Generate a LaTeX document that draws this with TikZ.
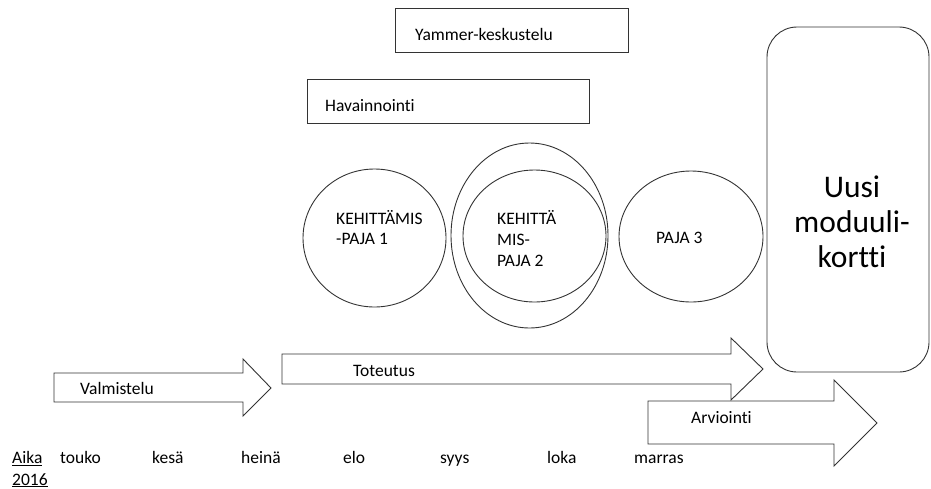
\documentclass[tikz,border=0pt]{standalone}
\usepackage{fontspec}
\setmainfont{Carlito}[Ligatures={NoCommon}]
\usetikzlibrary{shapes.geometric}
\begin{document}
\begin{tikzpicture}[x=1pt,y=-1pt,
  ln/.style={draw=black!80,line width=0.9pt},
  lbl/.style={anchor=base west,inner sep=0pt,font=\fontsize{17.5}{21}\selectfont},
  oval/.style={ln,ellipse,inner sep=0pt},
  boxnode/.style={ln,rectangle,inner sep=0pt}]
\useasboundingbox (0,0) rectangle (931,488);
% boxes
\node[boxnode,minimum width=233pt,minimum height=44pt] (yam) at (511.5,30) {};
\node[boxnode,minimum width=282pt,minimum height=44pt] (hav) at (448,101) {};
\node[lbl] (yamt) at (415,40.5) {Yammer-keskustelu};
\node[lbl] (havt) at (325,111.5) {Havainnointi};
% circles
\node[oval,minimum width=143pt,minimum height=138pt] (c1) at (374.5,238) {};
\node[oval,minimum width=157pt,minimum height=185pt] (c2o) at (529.5,235.5) {};
\node[oval,minimum width=143pt,minimum height=132pt] (c2) at (534.5,236) {};
\node[oval,minimum width=144pt,minimum height=131pt] (c3) at (691,236.5) {};
\node[lbl] (c1a) at (336,224) {KEHITTÄMIS};
\node[lbl] (c1b) at (336,244.5) {-PAJA 1};
\node[lbl] (c2a) at (497,224) {KEHITTÄ};
\node[lbl] (c2b) at (497,245) {MIS-};
\node[lbl] (c2c) at (497,266) {PAJA 2};
\node[lbl] (c3a) at (656,243) {PAJA 3};
% module card
\draw[ln,rounded corners=30pt] (767,27) rectangle (929,372);
\node[anchor=base,inner sep=0pt,font=\fontsize{31.5}{35}\selectfont] (u1) at (852,197) {Uusi};
\node[anchor=base,inner sep=0pt,font=\fontsize{31.5}{35}\selectfont] (u2) at (852,232) {moduuli-};
\node[anchor=base,inner sep=0pt,font=\fontsize{31.5}{35}\selectfont] (u3) at (852,267) {kortti};
% arrows
\draw[ln,fill=white] (54,373) -- (243,373) -- (243,359) -- (271,388) -- (243,416) -- (243,402) -- (54,402) -- cycle;
\draw[ln,fill=white] (282,354) -- (731,354) -- (731,338) -- (763,369) -- (731,400) -- (731,384) -- (282,384) -- cycle;
\draw[ln,fill=white] (648,401) -- (834,401) -- (834,380) -- (877,423) -- (834,466) -- (834,444) -- (648,444) -- cycle;
\node[lbl] (val) at (80,394) {Valmistelu};
\node[lbl] (tot) at (353,376) {Toteutus};
\node[lbl] (arv) at (691,423) {Arviointi};
% timeline
\node[lbl] (aika) at (12,463.5) {\underline{Aika}};
\node[lbl] (y2016) at (12,485) {\underline{2016}};
\node[lbl] (m1) at (60,463.5) {touko};
\node[lbl] (m2) at (152,463.5) {kesä};
\node[lbl] (m3) at (241,463.5) {heinä};
\node[lbl] (m4) at (343,463.5) {elo};
\node[lbl] (m5) at (440,463.5) {syys};
\node[lbl] (m6) at (547,463.5) {loka};
\node[lbl] (m7) at (634,463.5) {marras};
\end{tikzpicture}
\end{document}
